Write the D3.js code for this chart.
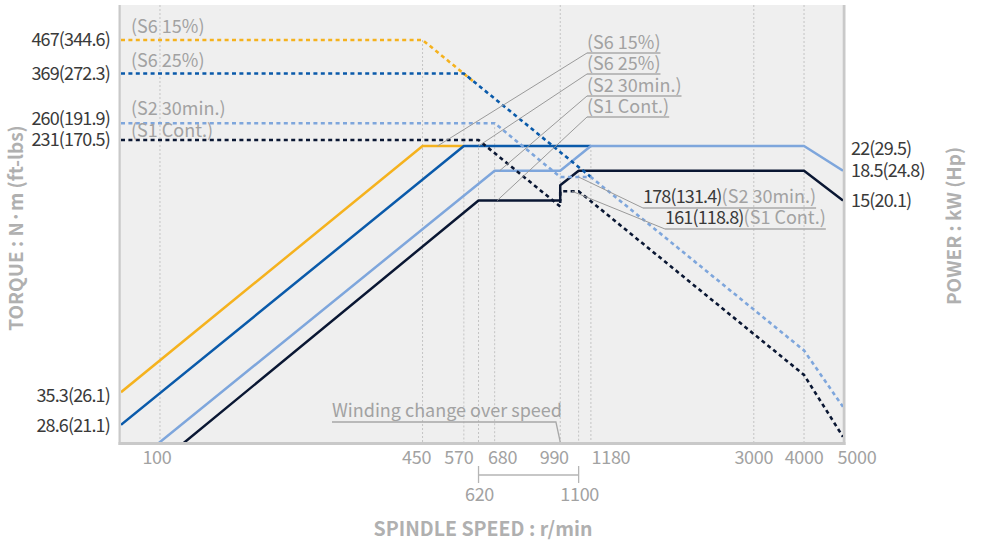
<!DOCTYPE html>
<html><head><meta charset="utf-8">
<script src="https://cdn.jsdelivr.net/npm/d3@7"></script>
<style>
html,body{margin:0;padding:0;background:#fff;}
svg{display:block;font-family:"Noto Sans CJK KR","Noto Sans",sans-serif;}
</style></head><body>
<svg id="chart" width="984" height="543"></svg>
<script>
// ---------------- DATA ----------------
const seriesNames = ["S6 15%", "S6 25%", "S2 30min.", "S1 Cont."];

// torque curves (N·m) vs spindle speed (r/min)
const s6_15_torqueSpeed = [80, 450, 600];
const s6_15_torque      = [467, 467, 350];
const s6_25_torqueSpeed = [80, 570, 1180];
const s6_25_torque      = [369, 369, 178];
const s2_torqueSpeed    = [80, 680, 990, 1180, 4000, 5000];
const s2_torque         = [260, 260, 178, 178, 52.5, 35.3];
const s1_torqueSpeed    = [80, 620, 990, 990, 1100, 4000, 5000];
const s1_torque         = [231, 231, 144.7, 161, 161, 44.2, 28.6];

// power curves (kW) vs spindle speed (r/min)
const s6_15_powerSpeed = [80, 450, 570];
const s6_15_power      = [3.9, 22, 22];
const s6_25_powerSpeed = [80, 570, 1180];
const s6_25_power      = [3.1, 22, 22];
const s2_powerSpeed    = [80, 680, 990, 1180, 4000, 5000];
const s2_power         = [2.2, 18.5, 18.5, 22, 22, 18.5];
const s1_powerSpeed    = [80, 620, 990, 990, 1100, 4000, 5000];
const s1_power         = [1.9, 15, 15, 16.7, 18.5, 18.5, 15];

// axis labels
const torqueLabelValues = [467, 369, 260, 231];
const torqueLabels      = ["467(344.6)", "369(272.3)", "260(191.9)", "231(170.5)"];
const endTorqueValues   = [35.3, 28.6];
const endTorqueLabels   = ["35.3(26.1)", "28.6(21.1)"];
const powerLabelValues  = [22, 18.5, 15];
const powerLabels       = ["22(29.5)", "18.5(24.8)", "15(20.1)"];
const xTickValues  = [100, 450, 570, 680, 990, 1180, 3000, 4000, 5000];
const xTickValues2 = [620, 1100];
const gridSpeeds      = [100, 450, 570, 620, 680, 990, 1100, 1180, 3000, 4000];
const gridTopTorque   = [null, 467, 369, 231, 260, null, null, null, null, null];
const gridTopPower    = [null, null, null, null, null, null, 18.5, 22, null, null];

// callouts
const calloutSpeed = [490, 620, 700, 690];
const calloutPower = [22, 22, 18.5, 15];
const pointLabelValues = ["178(131.4)", "161(118.8)"];
const pointLabelSeries = ["(S2 30min.)", "(S1 Cont.)"];
const pointSpeed  = [1100, 1060];
const pointTorque = [178, 161];
const windingText = "Winding change over speed";
const windingSpeed = 990;

// ---------------- STYLE / LAYOUT ----------------
const colors = ["#f5b21e", "#0a5aaa", "#7ea6dc", "#0a1733"];
const darkText = "#3a3a3a", grayText = "#a2a2a2", titleGray = "#b0b0b0";
const numSpacing = "-0.85px";
const pL = 121, pR = 842, pT = 5, pB = 442;

const svg = d3.select("#chart");
const x  = d3.scaleLog().domain([80, 5000]).range([121, 843]);
const yT = d3.scaleLog().domain([231, 467]).range([140, 40]);
const yP = d3.scaleLog().domain([15, 22]).range([200.5, 146]);

// plot background & frame
svg.append("rect").attr("x", pL).attr("y", pT).attr("width", pR - pL).attr("height", pB - pT).attr("fill", "#efefef");
svg.append("rect").attr("x", 118.5).attr("y", pT).attr("width", 2.3).attr("height", pB - pT + 3).attr("fill", "#c9c9c9");
svg.append("rect").attr("x", 118.5).attr("y", pB).attr("width", 845.5 - 118.5).attr("height", 3).attr("fill", "#c9c9c9");
svg.append("rect").attr("x", 842.5).attr("y", pT).attr("width", 3).attr("height", pB - pT + 3).attr("fill", "#c9c9c9");

svg.append("clipPath").attr("id", "clip").append("rect")
  .attr("x", pL).attr("y", pT).attr("width", 843 - pL).attr("height", pB - pT);

// grid
const grid = svg.append("g");
gridSpeeds.forEach((s, i) => {
  let y0 = pT;
  if (gridTopTorque[i] != null) y0 = yT(gridTopTorque[i]);
  if (gridTopPower[i] != null) y0 = yP(gridTopPower[i]);
  grid.append("line").attr("x1", x(s)).attr("x2", x(s)).attr("y1", y0).attr("y2", pB)
    .attr("stroke", "#c4c4c4").attr("stroke-width", 1).attr("stroke-dasharray", "2,2");
});

const plot = svg.append("g").attr("clip-path", "url(#clip)");
const lineT = d3.line().x(d => x(d[0])).y(d => yT(d[1]));
const lineP = d3.line().x(d => x(d[0])).y(d => yP(d[1]));

const powerSets = [
  d3.zip(s6_15_powerSpeed, s6_15_power), d3.zip(s6_25_powerSpeed, s6_25_power),
  d3.zip(s2_powerSpeed, s2_power), d3.zip(s1_powerSpeed, s1_power)];
const torqueSets = [
  d3.zip(s6_15_torqueSpeed, s6_15_torque), d3.zip(s6_25_torqueSpeed, s6_25_torque),
  d3.zip(s2_torqueSpeed, s2_torque), d3.zip(s1_torqueSpeed, s1_torque)];

powerSets.forEach((d, i) => {
  plot.append("path").attr("d", lineP(d)).attr("fill", "none")
    .attr("stroke", colors[i]).attr("stroke-width", 2.5).attr("stroke-linejoin", "round");
});

// leader lines for series callouts (drawn under dotted lines)
const calloutBase = [53, 74, 96, 117];
const callG = svg.append("g");
seriesNames.forEach((n, i) => {
  callG.append("line").attr("x1", 587).attr("y1", calloutBase[i])
    .attr("x2", x(calloutSpeed[i])).attr("y2", yP(calloutPower[i]))
    .attr("stroke", "#9a9a9a").attr("stroke-width", 1);
});
const ptBase = [208, 229], ptX = [643, 665];
pointLabelValues.forEach((t, i) => {
  callG.append("line").attr("x1", ptX[i]).attr("y1", ptBase[i])
    .attr("x2", x(pointSpeed[i])).attr("y2", yT(pointTorque[i]))
    .attr("stroke", "#9a9a9a").attr("stroke-width", 1);
});

torqueSets.forEach((d, i) => {
  plot.append("path").attr("d", lineT(d)).attr("fill", "none")
    .attr("stroke", colors[i]).attr("stroke-width", 2.6).attr("stroke-dasharray", "4,3.4");
});

// left torque labels
const txt = svg.append("g").style("font-size", "18px");
const tDy = [0, 0, -4, 0];
torqueLabels.forEach((t, i) => {
  txt.append("text").attr("x", 110).attr("y", yT(torqueLabelValues[i]) + tDy[i]).attr("dy", "0.35em")
    .attr("text-anchor", "end").attr("fill", darkText).style("letter-spacing", numSpacing).text(t);
});
endTorqueLabels.forEach((t, i) => {
  txt.append("text").attr("x", 110).attr("y", yT(endTorqueValues[i]) - 11).attr("dy", "0.35em")
    .attr("text-anchor", "end").attr("fill", darkText).style("letter-spacing", numSpacing).text(t);
});
// top-left series labels
const sDy = [-7, -6.5, -8, -3];
const topVals = [467, 369, 260, 231];
seriesNames.forEach((n, i) => {
  txt.append("text").attr("x", 131).attr("y", yT(topVals[i]) + sDy[i])
    .attr("fill", grayText).text("(" + n + ")");
});
// right power labels
const pDy = [3, 0, 0];
powerLabels.forEach((t, i) => {
  txt.append("text").attr("x", 851).attr("y", yP(powerLabelValues[i]) + pDy[i]).attr("dy", "0.35em")
    .attr("fill", darkText).style("letter-spacing", numSpacing).text(t);
});
// right series callout labels with underline
seriesNames.forEach((n, i) => {
  const t = txt.append("text").attr("x", 587).attr("y", calloutBase[i] - 4)
    .attr("fill", grayText).text("(" + n + ")");
  const w = t.node().getComputedTextLength();
  txt.append("line").attr("x1", 587).attr("x2", 587 + w).attr("y1", calloutBase[i]).attr("y2", calloutBase[i])
    .attr("stroke", "#aaaaaa").attr("stroke-width", 1.5);
});
// point labels
pointLabelValues.forEach((v, i) => {
  const t = txt.append("text").attr("x", ptX[i]).attr("y", ptBase[i] - 5);
  t.append("tspan").attr("fill", darkText).style("letter-spacing", numSpacing).text(v);
  t.append("tspan").attr("fill", grayText).text(pointLabelSeries[i]);
  const w = t.node().getComputedTextLength();
  txt.append("line").attr("x1", ptX[i]).attr("x2", ptX[i] + w).attr("y1", ptBase[i]).attr("y2", ptBase[i])
    .attr("stroke", "#aaaaaa").attr("stroke-width", 1.5);
});
// winding change
{
  const t = txt.append("text").attr("x", 332).attr("y", 417).attr("fill", grayText).text(windingText);
  const w = t.node().getComputedTextLength();
  txt.append("path").attr("d", `M332,422H${332 + w - 6}L${x(windingSpeed)},${pB}`)
    .attr("fill", "none").attr("stroke", "#a8a8a8").attr("stroke-width", 1.3);
}
// x tick labels
const tickDx = [-3, -6, -5, 8, -6, 20, 0, 0, 14];
xTickValues.forEach((v, i) => {
  txt.append("text").attr("x", x(v) + tickDx[i]).attr("y", 464).attr("text-anchor", "middle")
    .attr("fill", grayText).style("letter-spacing", "-0.3px").text(v);
});
xTickValues2.forEach((v, i) => {
  txt.append("text").attr("x", x(v) + 1).attr("y", 501).attr("text-anchor", "middle")
    .attr("fill", grayText).style("letter-spacing", "-0.3px").text(v);
});
svg.append("path")
  .attr("d", `M${x(xTickValues2[0])},466V483M${x(xTickValues2[0])},475H${x(xTickValues2[1])}M${x(xTickValues2[1])},466V483`)
  .attr("fill", "none").attr("stroke", "#b5b5b5").attr("stroke-width", 1.3);

// axis titles
svg.append("text").attr("x", 483).attr("y", 536).attr("text-anchor", "middle")
  .style("font-size", "19.5px").style("font-weight", "bold").attr("fill", titleGray).text("SPINDLE SPEED : r/min");
svg.append("text").attr("transform", "translate(23,228) rotate(-90)").attr("text-anchor", "middle")
  .style("font-size", "19px").style("font-weight", "bold").attr("fill", titleGray).text("TORQUE : N·m (ft-lbs)");
svg.append("text").attr("transform", "translate(961,226) rotate(-90)").attr("text-anchor", "middle")
  .style("font-size", "19px").style("font-weight", "bold").attr("fill", titleGray).text("POWER : kW (Hp)");
</script>
</body></html>
